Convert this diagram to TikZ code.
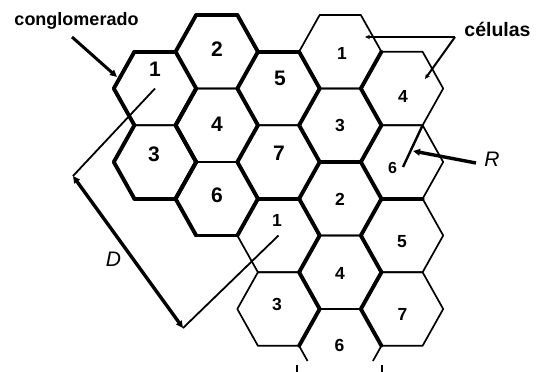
\documentclass[tikz,border=0pt]{standalone}
\usepackage{fontspec}
\setmainfont{Liberation Sans}
\usetikzlibrary{arrows.meta}
\def\hR{41.2}\def\hr{20.6}\def\hh{36.75}
\newcommand\hexfull[2][]{\draw[thinedge,#1] (#2) ++(\hR,0) -- ++(-\hr,-\hh) -- ++(-\hR,0) -- ++(-\hr,\hh) -- ++(\hr,\hh) -- ++(\hR,0) -- cycle;}
\newcommand\hxN[1]{\draw[boldedge] (#1) ++(-\hr,-\hh) -- ++(\hR,0);}
\newcommand\hxNE[1]{\draw[boldedge] (#1) ++(\hr,-\hh) -- ++(\hr,\hh);}
\newcommand\hxSE[1]{\draw[boldedge] (#1) ++(\hR,0) -- ++(-\hr,\hh);}
\newcommand\hxS[1]{\draw[boldedge] (#1) ++(\hr,\hh) -- ++(-\hR,0);}
\newcommand\hxSW[1]{\draw[boldedge] (#1) ++(-\hr,\hh) -- ++(-\hr,-\hh);}
\newcommand\hxNW[1]{\draw[boldedge] (#1) ++(-\hR,0) -- ++(\hr,-\hh);}
\begin{document}
\begin{tikzpicture}[x=1pt,y=-1pt,
  thinedge/.style={line width=1.7pt,line join=round},
  boldedge/.style={line width=3.9pt,line cap=round},
  bignum/.style={font=\fontsize{21}{21}\selectfont\bfseries,inner sep=0pt},
  smallnum/.style={font=\fontsize{17.5}{17.5}\selectfont\bfseries,inner sep=0pt},
  lbl/.style={inner sep=0pt,anchor=base},
  letter/.style={font=\fontsize{21}{21}\selectfont\itshape,inner sep=0pt},
  thinline/.style={line width=1.8pt},
  thickarrow/.style={line width=3.4pt},
  bigtip/.tip={Triangle[length=7pt,width=6.5pt]},
  smalltip/.tip={Stealth[length=5pt,width=4.5pt]}]
\useasboundingbox (0,0) rectangle (541,372);
\fill[white] (0,0) rectangle (541,372);
% cell centres
\coordinate (A1) at (155,88.5);
\coordinate (A3) at (155,162);
\coordinate (A2) at (216.75,51.75);
\coordinate (A4) at (216.75,125.25);
\coordinate (A6) at (216.75,198.75);
\coordinate (A5) at (278.5,88.5);
\coordinate (A7) at (278.5,162);
\coordinate (C1) at (278.5,235.5);
\coordinate (C3) at (278.5,309);
\coordinate (B1) at (340.25,51.75);
\coordinate (B3) at (340.25,125.25);
\coordinate (C2) at (340.25,198.75);
\coordinate (C4) at (340.25,272.25);
\coordinate (C6) at (340.25,345.75);
\coordinate (B4) at (402,88.5);
\coordinate (B6) at (402,162);
\coordinate (C5) at (402,235.5);
\coordinate (C7) at (402,309);
% thin hexagons
\foreach \c in {A1,A2,A3,A4,A5,A6,A7,B1,B3,B4,B6,C1,C2,C3,C4,C5,C7}{\hexfull{\c}}
\draw[thinedge] (C6) ++(-\hR,0) -- ++(\hr,-\hh) -- ++(\hR,0) -- ++(\hr,\hh);
\draw[thinedge] (C6) ++(-\hR,0) -- ++(8.5,15.2);
\draw[thinedge] (C6) ++(\hR,0) -- ++(-8.5,15.2);
\coordinate (t1a) at (297,365); \coordinate (t1b) at (297,372);
\coordinate (t2a) at (382,365); \coordinate (t2b) at (382,372);
\draw[line width=1.5pt] (t1a) -- (t1b);
\draw[line width=1.5pt] (t2a) -- (t2b);
% bold edges
\hxN{A1}\hxNW{A1}\hxSW{A1}\hxNE{A1}\hxSE{A1}
\hxNW{A3}\hxSW{A3}\hxS{A3}\hxNE{A3}\hxSE{A3}
\hxN{A2}\hxNW{A2}\hxNE{A2}\hxSE{A2}
\hxNW{A4}\hxSW{A4}\hxNE{A4}\hxSE{A4}
\hxNW{A6}\hxSW{A6}\hxS{A6}\hxSE{A6}\hxNE{A6}
\hxN{A5}\hxNE{A5}\hxSE{A5}
\hxNE{A7}\hxSE{A7}\hxS{A7}
\hxSE{B1}
\hxNE{B3}\hxSE{B3}\hxS{B3}
\hxS{B6}
\hxNE{C1}\hxSE{C1}
\hxNE{C2}\hxSE{C2}
\hxNE{C3}\hxSE{C3}
\hxNE{C4}\hxSE{C4}
\hxNE{C6}
% numbers
\node[bignum] (n1) at (155,69.5) {1};
\node[bignum] (n2) at (217,49.5) {2};
\node[bignum] (n5) at (280,78.5) {5};
\node[bignum] (n4) at (217,124) {4};
\node[bignum] (n3) at (154,154.5) {3};
\node[bignum] (n7) at (279,153.5) {7};
\node[bignum] (n6) at (217,195) {6};
\node[smallnum] (m1) at (342,53) {1};
\node[smallnum] (m4) at (403,96) {4};
\node[smallnum] (m3) at (340,125) {3};
\node[smallnum,font=\fontsize{16}{16}\selectfont\bfseries] (m6) at (392.5,168) {6};
\node[smallnum] (k2) at (340,199) {2};
\node[smallnum] (k1) at (277,220) {1};
\node[smallnum] (k5) at (402,241.5) {5};
\node[smallnum] (k4) at (340,273) {4};
\node[smallnum] (k3) at (277,304) {3};
\node[smallnum] (k7) at (402.5,314) {7};
\node[smallnum] (k6) at (339.5,345.5) {6};
% conglomerado
\node[lbl,font=\fontsize{18}{18}\selectfont\bfseries] (cong) at (76.5,25) {conglomerado};
\coordinate (congS) at (72,37);
\coordinate (congE) at (117,77);
\draw[line width=3pt,-bigtip] (congS) -- (congE);
% celulas
\node[lbl,font=\fontsize{19.5}{19.5}\selectfont\bfseries] (cel) at (497.5,36) {células};
\coordinate (celP) at (455,37);
\coordinate (celA) at (365,37);
\coordinate (celB) at (425,79);
\draw[line width=2pt,-smalltip] (celP) -- (celA);
\draw[line width=2pt,-smalltip] (celP) -- (celB);
% R
\coordinate (b6r) at (403,167);
\coordinate (b6v) at (422.6,125.25);
\draw[line width=2.4pt] (b6r) -- (b6v);
\node[letter] (Rl) at (492,159.5) {R};
\coordinate (Rs) at (476,163);
\coordinate (Rt) at (413,151);
\draw[thickarrow,-bigtip] (Rs) -- (Rt);
% D
\coordinate (P1) at (73,176);
\coordinate (P2) at (183,328);
\draw[thinline] (A1) -- (P1);
\draw[thinline] (P2) -- (C1);
\draw[thickarrow,bigtip-bigtip] (P1) -- (P2);
\node[letter] (Dl) at (113.5,259.5) {D};
\end{tikzpicture}
\end{document}
